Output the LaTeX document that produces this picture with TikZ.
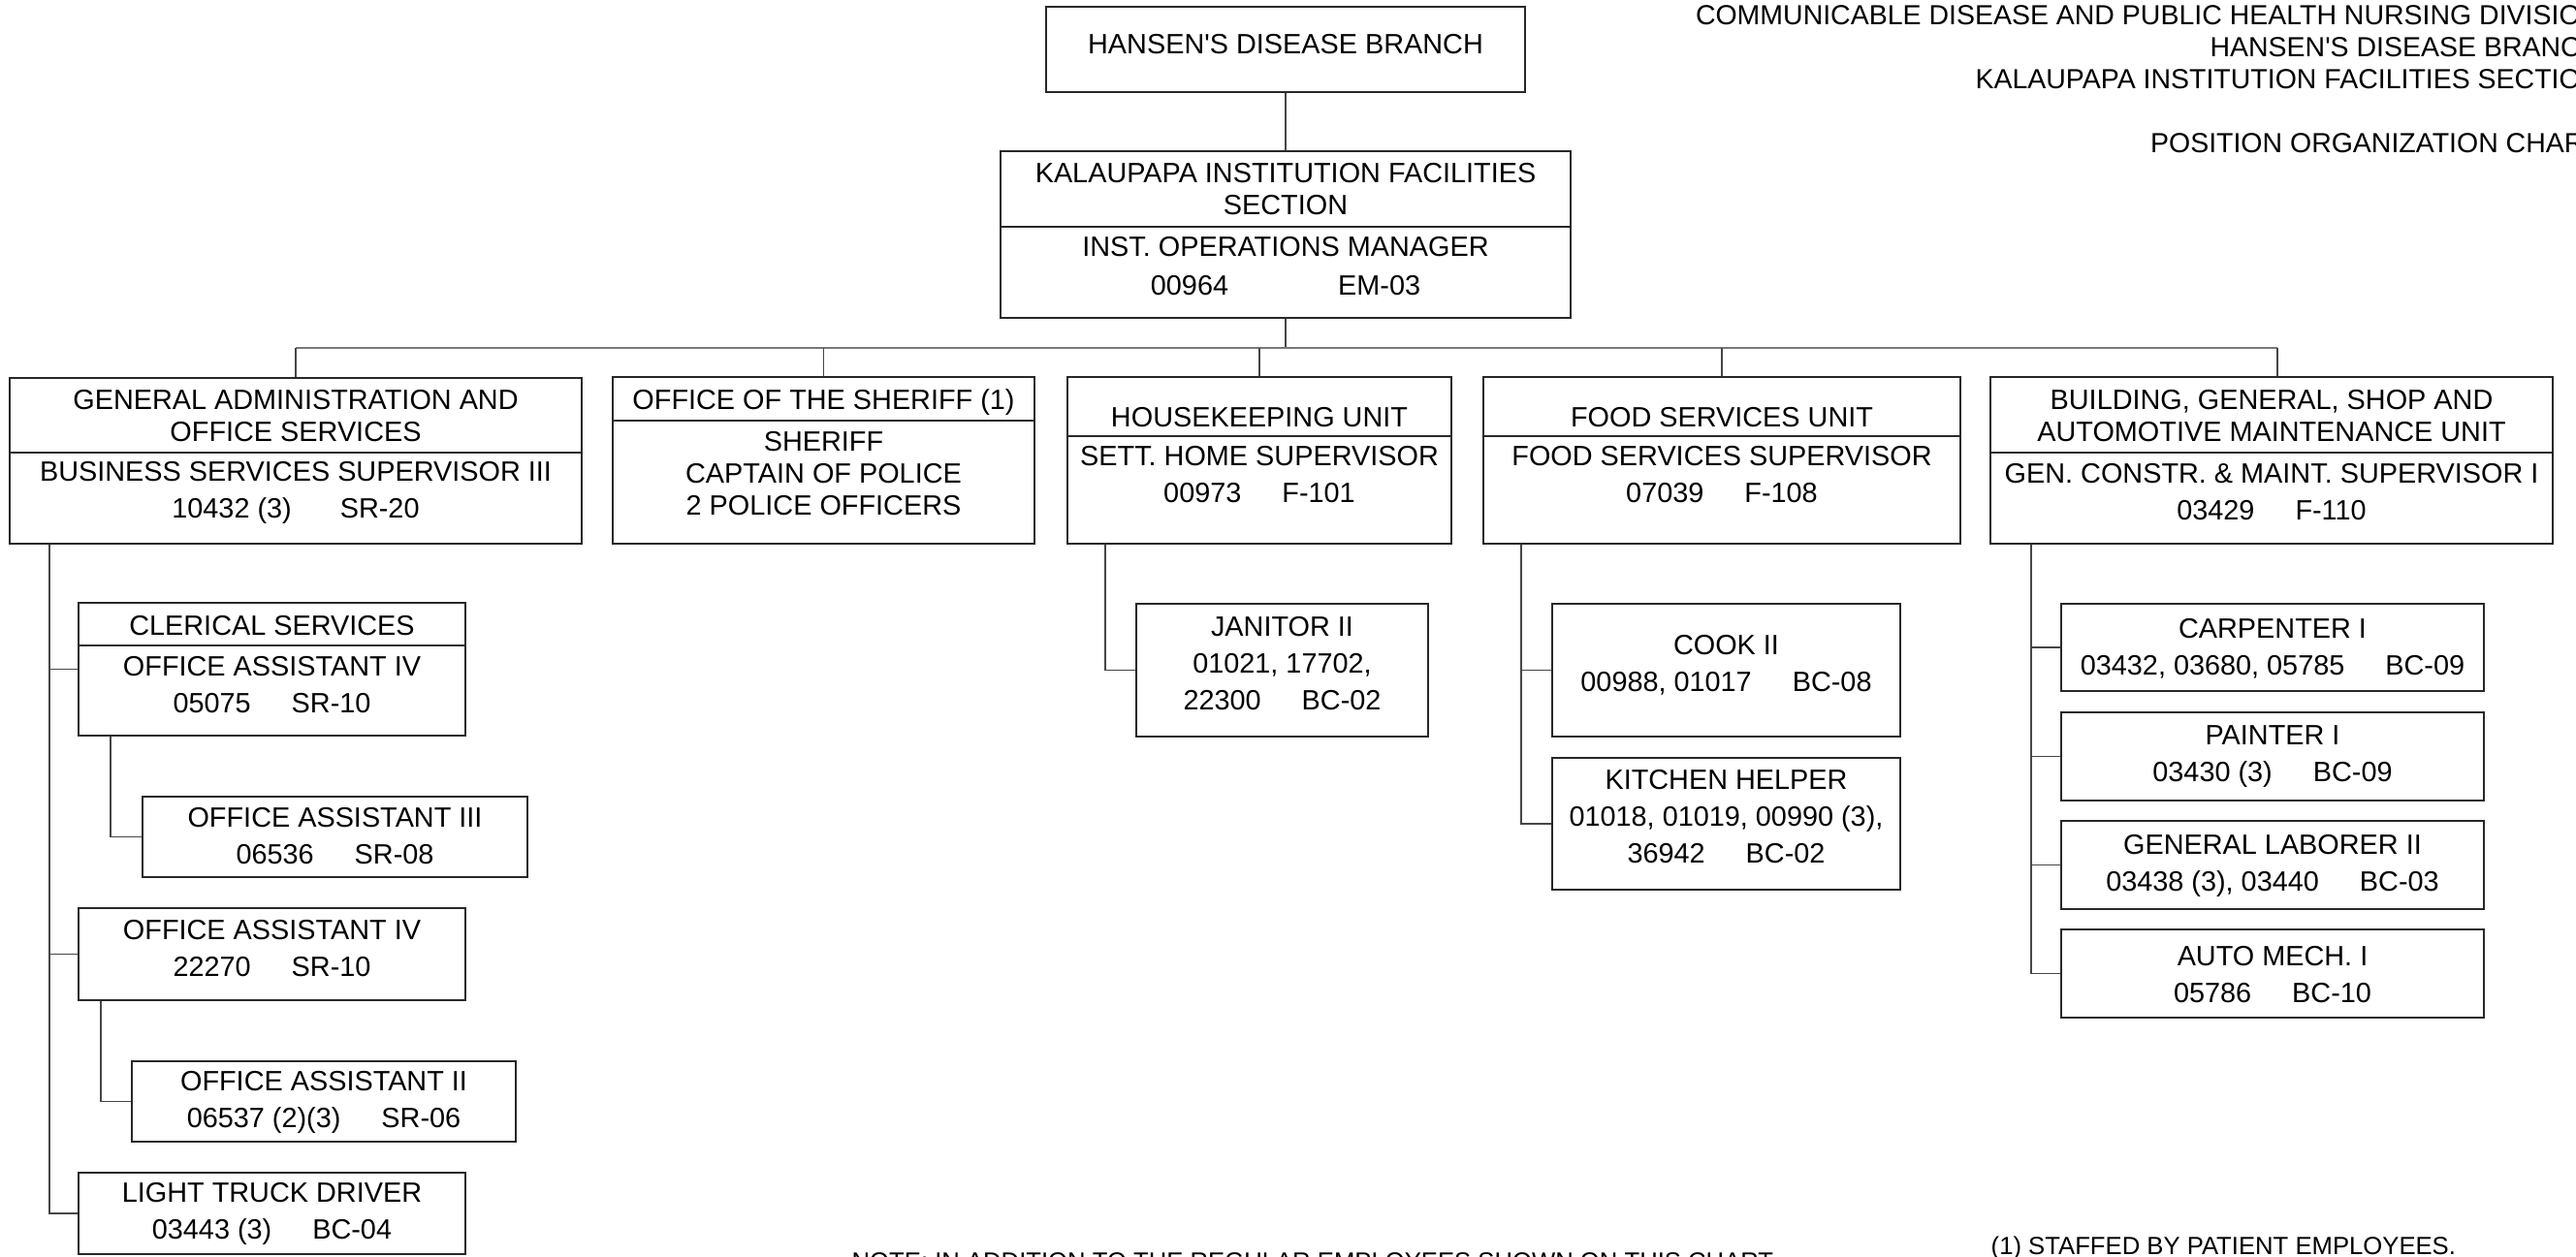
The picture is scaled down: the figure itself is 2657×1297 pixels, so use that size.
\documentclass[tikz,border=0pt]{standalone}
\usepackage{fontspec}
\setmainfont{Liberation Sans}
\usetikzlibrary{positioning,calc}
\definecolor{edge}{RGB}{40,40,40}
\definecolor{wirec}{RGB}{70,70,70}
\definecolor{busc}{RGB}{120,120,120}
\newcommand{\gap}{\hspace{0.42cm}}

\begin{document}
\begin{tikzpicture}[x=0.01cm, y=-0.01cm,
  box/.style={draw=edge, line width=0.5pt, inner sep=0pt},
  rule/.style={draw=edge, line width=0.5pt},
  txt/.style={font=\fontsize{8.2pt}{10.8pt}\selectfont, align=center, inner sep=0pt},
  hdr/.style={txt, font=\fontsize{8.2pt}{9.4pt}\selectfont},
  note/.style={font=\fontsize{7.3pt}{9pt}\selectfont, inner sep=0pt},
  wire/.style={draw=wirec, line width=0.4pt},
  bus/.style={draw=busc, line width=0.8pt}]
  \useasboundingbox (0,0) rectangle (2657,1297);

  \node[txt, align=right, anchor=north east, font=\fontsize{8.1pt}{9.4pt}\selectfont] (title) at (2683,5)
    {COMMUNICABLE DISEASE AND PUBLIC HEALTH NURSING DIVISION\\HANSEN\textquotesingle S DISEASE BRANCH\\KALAUPAPA INSTITUTION FACILITIES SECTION\\[9.4pt]POSITION ORGANIZATION CHART};

  \node[box, minimum width=4.94cm, minimum height=0.88cm] (hdb) at (1326,51) {};
  \node[txt] (hdb-t) at (1326,46) {HANSEN\textquotesingle S DISEASE BRANCH};

  \node[box, minimum width=5.88cm, minimum height=1.72cm] (sect) at (1326,242) {};
  \draw[rule] (sect.west |- 0,234) -- (sect.east |- 0,234);
  \node[hdr] (sect-h) at (1326,195) {KALAUPAPA INSTITUTION FACILITIES\\SECTION};
  \node[txt] (sect-b) at (1326,274.5) {INST. OPERATIONS MANAGER\\[0.6pt]00964\hspace{1.13cm}EM-03};

  \node[box, minimum width=5.90cm, minimum height=1.71cm] (gadm) at (305,475.5) {};
  \draw[rule] (gadm.west |- 0,467) -- (gadm.east |- 0,467);
  \node[hdr] (gadm-h) at (305,429.5) {GENERAL ADMINISTRATION AND\\OFFICE SERVICES};
  \node[txt] (gadm-b) at (305,508) {BUSINESS SERVICES SUPERVISOR III\\10432 (3)\hspace{0.5cm}SR-20};

  \node[box, minimum width=4.35cm, minimum height=1.72cm] (sher) at (849.5,475) {};
  \draw[rule] (sher.west |- 0,434) -- (sher.east |- 0,434);
  \node[txt] (sher-h) at (849.5,415) {OFFICE OF THE SHERIFF (1)};
  \node[hdr] (sher-b) at (849.5,489) {SHERIFF\\CAPTAIN OF POLICE\\2 POLICE OFFICERS};

  \node[box, minimum width=3.96cm, minimum height=1.72cm] (hk) at (1299,475) {};
  \draw[rule] (hk.west |- 0,450) -- (hk.east |- 0,450);
  \node[txt] (hk-h) at (1299,431) {HOUSEKEEPING UNIT};
  \node[txt] (hk-b) at (1299,490) {SETT. HOME SUPERVISOR\\00973\gap F-101};

  \node[box, minimum width=4.92cm, minimum height=1.72cm] (fs) at (1776,475) {};
  \draw[rule] (fs.west |- 0,450) -- (fs.east |- 0,450);
  \node[txt] (fs-h) at (1776,431) {FOOD SERVICES UNIT};
  \node[txt] (fs-b) at (1776,490) {FOOD SERVICES SUPERVISOR\\07039\gap F-108};

  \node[box, minimum width=5.80cm, minimum height=1.72cm] (bg) at (2343,475) {};
  \draw[rule] (bg.west |- 0,467) -- (bg.east |- 0,467);
  \node[hdr] (bg-h) at (2343,429) {BUILDING, GENERAL, SHOP AND\\AUTOMOTIVE MAINTENANCE UNIT};
  \node[txt] (bg-b) at (2343,507.5) {GEN. CONSTR. \& MAINT. SUPERVISOR I\\03429\gap F-110};

  \node[box, minimum width=3.99cm, minimum height=1.37cm] (cler) at (280.5,690.5) {};
  \draw[rule] (cler.west |- 0,666) -- (cler.east |- 0,666);
  \node[txt] (cler-h) at (280.5,646) {CLERICAL SERVICES};
  \node[txt] (cler-b) at (280.5,706.5) {OFFICE ASSISTANT IV\\05075\gap SR-10};
  \node[box, minimum width=3.97cm, minimum height=0.83cm] (oa3) at (345.5,863.5) {};
  \node[txt] (oa3-t) at (345.5,863) {OFFICE ASSISTANT III\\06536\gap SR-08};
  \node[box, minimum width=3.99cm, minimum height=0.95cm] (oa4) at (280.5,984.5) {};
  \node[txt] (oa4-t) at (280.5,978.5) {OFFICE ASSISTANT IV\\22270\gap SR-10};
  \node[box, minimum width=3.96cm, minimum height=0.83cm] (oa2) at (334,1136.5) {};
  \node[txt] (oa2-t) at (334,1137) {OFFICE ASSISTANT II\\06537 (2)(3)\gap SR-06};
  \node[box, minimum width=3.99cm, minimum height=0.84cm] (ltd) at (280.5,1252) {};
  \node[txt] (ltd-t) at (280.5,1252) {LIGHT TRUCK DRIVER\\03443 (3)\gap BC-04};

  \node[box, minimum width=3.01cm, minimum height=1.37cm] (jan) at (1322.5,691.5) {};
  \node[txt] (jan-t) at (1322.5,685) {JANITOR II\\01021, 17702,\\22300\gap BC-02};

  \node[box, minimum width=3.59cm, minimum height=1.37cm] (cook) at (1780.5,691.5) {};
  \node[txt] (cook-t) at (1780.5,686) {COOK II\\00988, 01017\gap BC-08};
  \node[box, minimum width=3.59cm, minimum height=1.36cm] (kit) at (1780.5,850) {};
  \node[txt] (kit-t) at (1780.5,843) {KITCHEN HELPER\\01018, 01019, 00990 (3),\\36942\gap BC-02};

  \node[box, minimum width=4.36cm, minimum height=0.90cm] (carp) at (2344,668) {};
  \node[txt] (carp-t) at (2344,669.5) {CARPENTER I\\03432, 03680, 05785\gap BC-09};
  \node[box, minimum width=4.36cm, minimum height=0.91cm] (pnt) at (2344,780.5) {};
  \node[txt] (pnt-t) at (2344,781) {PAINTER I\\03430 (3)\gap BC-09};
  \node[box, minimum width=4.36cm, minimum height=0.91cm] (lab) at (2344,892.5) {};
  \node[txt] (lab-t) at (2344,893) {GENERAL LABORER II\\03438 (3), 03440\gap BC-03};
  \node[box, minimum width=4.36cm, minimum height=0.91cm] (mech) at (2344,1004.5) {};
  \node[txt] (mech-t) at (2344,1005.5) {AUTO MECH. I\\05786\gap BC-10};

  \node[note, anchor=base west] (nt) at (878,1310) {NOTE: IN ADDITION TO THE REGULAR EMPLOYEES SHOWN ON THIS CHART};
  \node[note, anchor=base west] (fn1) at (2053,1294) {(1) STAFFED BY PATIENT EMPLOYEES.};

  \draw[wire] (hdb) -- (sect);
  \coordinate (bus) at (1326,359);
  \draw[wire] (sect) -- (bus);
  \draw[bus] (gadm.north |- bus) -- ([xshift=0.06cm]bg.north |- bus);
  \foreach \d in {gadm,sher,hk,fs}
    \draw[wire] (bus -| \d.north) -- (\d.north);
  \draw[wire] ([xshift=0.06cm]bg.north |- bus) -- ([xshift=0.06cm]bg.north);

  \foreach \s in {cler,oa4,ltd}
    \draw[wire] ([xshift=0.42cm]gadm.south west) |- (\s.west);
  \draw[wire] ([xshift=0.34cm]cler.south west) |- (oa3.west);
  \draw[wire] ([xshift=0.24cm]oa4.south west) |- (oa2.west);
  \draw[wire] ([xshift=0.40cm]hk.south west) |- (jan.west);
  \foreach \s in {cook,kit}
    \draw[wire] ([xshift=0.40cm]fs.south west) |- (\s.west);
  \foreach \s in {carp,pnt,lab,mech}
    \draw[wire] ([xshift=0.43cm]bg.south west) |- (\s.west);
\end{tikzpicture}
\end{document}
